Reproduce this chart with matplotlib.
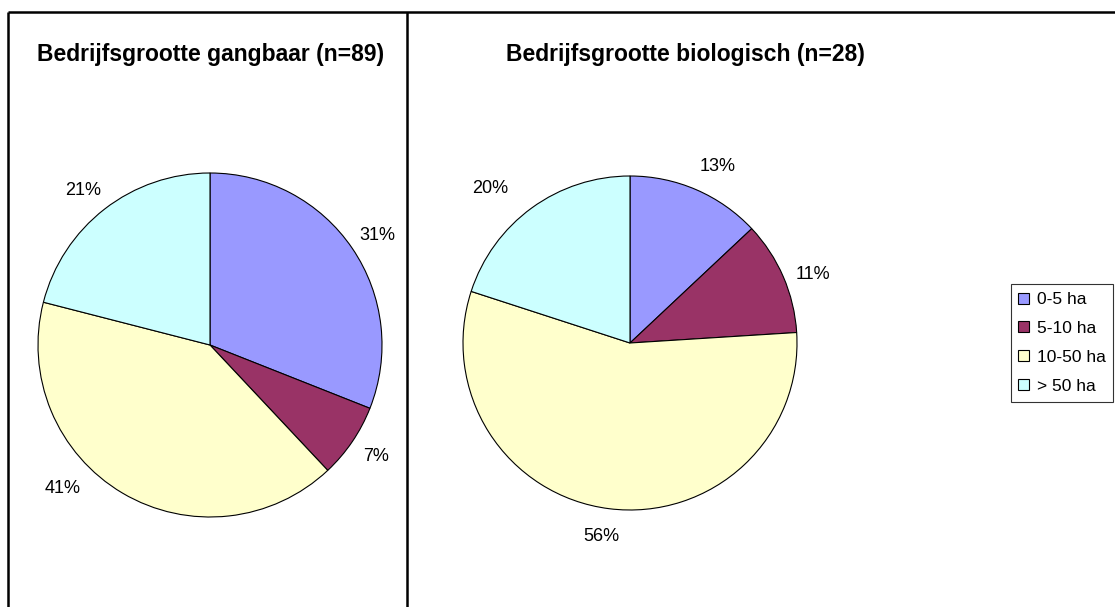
import matplotlib
matplotlib.use("Agg")
import matplotlib.pyplot as plt
from matplotlib.lines import Line2D

plt.rcParams['font.family'] = ['Liberation Sans', 'DejaVu Sans']

categories = ["0-5 ha", "5-10 ha", "10-50 ha", "> 50 ha"]
gangbaar = [31, 7, 41, 21]
biologisch = [13, 11, 56, 20]
titles = ["Bedrijfsgrootte gangbaar (n=89)", "Bedrijfsgrootte biologisch (n=28)"]
colors = ["#9999FF", "#993366", "#FFFFCC", "#CCFFFF"]

# small label nudges (pixels, x right / y up) to mimic Excel's label placement
label_nudges = [
    [(1, -4), (0, 2), (-45, 30), (-4, -5)],
    [(10, -3), (4, -9), (-4, 0), (-25, -4)],
]

W, H = 1115, 607
fig = plt.figure(figsize=(W / 100, H / 100), dpi=100)
ax = fig.add_axes([0, 0, 1, 1])

pies = [(gangbaar, (210, H - 345), 172), (biologisch, (630, H - 343), 167)]
wedges_all = None
for (vals, center, r), nudges in zip(pies, label_nudges):
    wedges, texts, autotexts = ax.pie(
        vals, colors=colors, startangle=90, counterclock=False,
        center=center, radius=r, autopct=lambda p: f"{p:.0f}%",
        pctdistance=1.17, frame=True,
        wedgeprops=dict(edgecolor='black', linewidth=0.8),
        textprops=dict(fontsize=13, color='black'))
    for t, (dx, dy) in zip(autotexts, nudges):
        x, y = t.get_position()
        t.set_position((x + dx, y + dy))
    if wedges_all is None:
        wedges_all = wedges
ax.set_xlim(0, W)
ax.set_ylim(0, H)
ax.set_aspect('equal')
ax.axis('off')

# titles
ax.text(211, H - 54, titles[0], ha='center', va='center', fontsize=16.5, fontweight='bold')
ax.text(685, H - 54, titles[1], ha='center', va='center', fontsize=16.5, fontweight='bold')

# frame lines
for xs, ys in [([8, W], [H - 12, H - 12]), ([8, 8], [H - 12, 0]), ([407, 407], [H - 12, 0])]:
    ax.add_line(Line2D(xs, ys, color='black', linewidth=1.8, solid_capstyle='butt'))

leg = ax.legend(wedges_all, categories, loc='center', bbox_to_anchor=(1062 / W, (H - 343) / H),
                bbox_transform=fig.transFigure, fontsize=12.5, frameon=True, fancybox=False,
                edgecolor='black', handlelength=0.6, handleheight=0.6, handletextpad=0.45,
                labelspacing=0.8, borderpad=0.45, borderaxespad=0)
leg.get_frame().set_linewidth(0.8)

fig.savefig("out.png", dpi=100)
